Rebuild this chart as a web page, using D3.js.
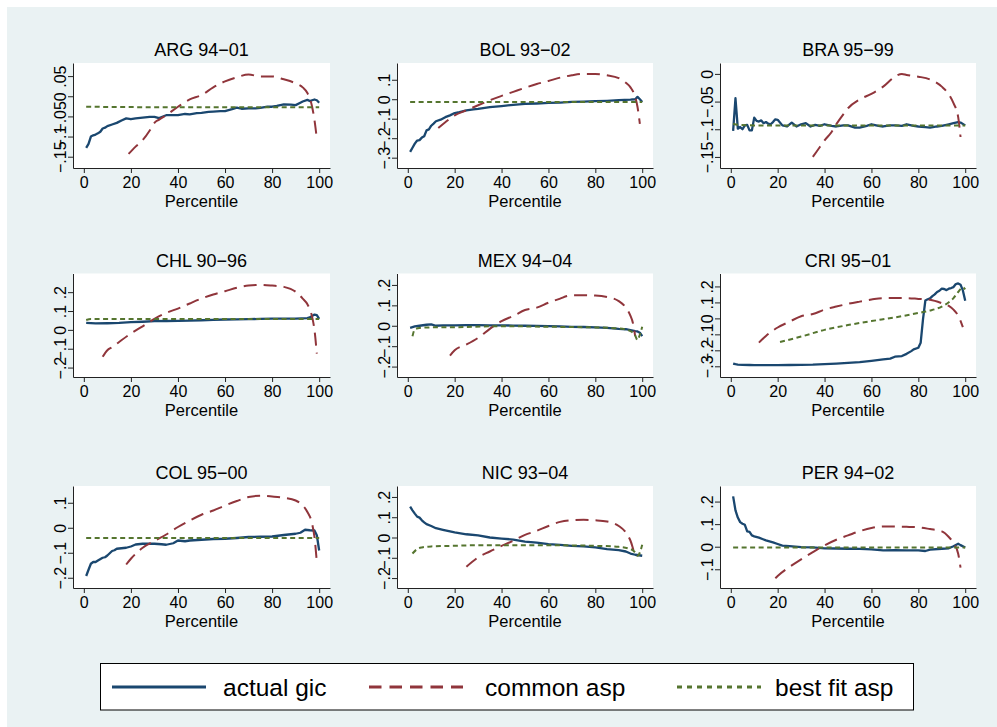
<!DOCTYPE html>
<html>
<head>
<meta charset="utf-8">
<script src="https://cdn.jsdelivr.net/npm/d3@7"></script>
<style>
  body { margin: 0; background: #fff; }
  svg { display: block; font-family: "Liberation Sans", Arial, Helvetica, sans-serif; }
</style>
</head>
<body>
<svg id="chart" width="997" height="727"></svg>
<script>
// panel titles, in reading order
const titles = ["ARG 94\u221201", "BOL 93\u221202", "BRA 95\u221299",
                "CHL 90\u221296", "MEX 94\u221204", "CRI 95\u221201",
                "COL 95\u221200", "NIC 93\u221204", "PER 94\u221202"];

// x axis ticks (percentile)
const xTicks = [0, 20, 40, 60, 80, 100];

// y axis ticks per panel
const yTicks = [
  [-.15, -.1, -.05, 0, .05],
  [-.3, -.2, -.1, 0, .1],
  [-.15, -.1, -.05, 0],
  [-.2, -.1, 0, .1, .2],
  [-.2, -.1, 0, .1, .2],
  [-.3, -.2, -.1, 0, .1, .2],
  [-.2, -.1, 0, .1],
  [-.2, -.1, 0, .1, .2],
  [-.1, 0, .1, .2]
];

// y range shown in each panel
const yRanges = [
  [-.178, .0825], [-.353, .186], [-.170, .0197],
  [-.250, .299], [-.251, .256], [-.367, .281],
  [-.241, .167], [-.249, .254], [-.183, .269]
];

// ---- series: [percentile, value] ----
const gicARG = [[1,-.128],[2,-.118],[3,-.100],[4,-.097],[5,-.095],[6,-.092],[7,-.088],[8,-.080],[9,-.078],[10,-.074],[12,-.070],[14,-.066],[16,-.060],[18,-.055],[20,-.057],[22,-.055],[25,-.053],[28,-.051],[30,-.051],[32,-.054],[35,-.047],[38,-.047],[40,-.047],[43,-.044],[45,-.045],[48,-.042],[50,-.041],[53,-.039],[55,-.038],[58,-.037],[60,-.037],[63,-.032],[65,-.028],[67,-.031],[70,-.030],[73,-.030],[75,-.029],[78,-.026],[80,-.026],[82,-.024],[85,-.020],[88,-.021],[90,-.022],[92,-.016],[93,-.013],[95,-.009],[96,-.012],[97,-.010],[98,-.008],[99,-.010],[100,-.016]];
const commonARG = [[19,-.143],[22,-.125],[25,-.109],[28,-.085],[30,-.066],[32,-.058],[35,-.047],[40,-.026],[45,-.008],[50,.003],[55,.022],[60,.037],[65,.047],[70,.054],[75,.049],[80,.049],[85,.042],[90,.032],[93,.022],[95,.008],[97,-.026],[98,-.059],[99,-.105]];
const bestARG = [[1,-.026],[25,-.027],[50,-.027],[75,-.027],[100,-.027]];

const gicBOL = [[1,-.270],[2,-.249],[3,-.228],[4,-.212],[5,-.210],[6,-.197],[7,-.190],[8,-.160],[9,-.155],[10,-.136],[11,-.125],[12,-.113],[14,-.105],[16,-.092],[18,-.083],[20,-.071],[22,-.066],[25,-.057],[28,-.052],[30,-.049],[35,-.040],[40,-.035],[45,-.029],[50,-.024],[55,-.022],[60,-.019],[65,-.017],[70,-.014],[75,-.012],[80,-.010],[85,-.008],[90,-.005],[95,-.002],[97,.000],[98,.012],[99,.000],[100,-.014]];
const commonBOL = [[13,-.148],[16,-.118],[20,-.083],[25,-.057],[30,-.031],[35,-.005],[40,.017],[45,.038],[50,.059],[55,.078],[60,.094],[65,.111],[70,.123],[75,.130],[80,.130],[85,.123],[90,.108],[93,.085],[95,.061],[97,.012],[98,-.040],[99,-.127]];
const bestBOL = [[1,-.014],[25,-.014],[50,-.014],[75,-.014],[100,-.014]];

const gicBRA = [[1,-.103],[2,-.044],[3,-.099],[4,-.096],[5,-.100],[6,-.093],[7,-.092],[8,-.102],[9,-.102],[10,-.079],[11,-.085],[12,-.086],[13,-.084],[14,-.089],[15,-.087],[16,-.090],[17,-.091],[18,-.087],[19,-.082],[20,-.083],[22,-.093],[24,-.095],[26,-.088],[28,-.095],[30,-.091],[32,-.089],[34,-.095],[36,-.092],[38,-.094],[40,-.091],[43,-.094],[45,-.095],[48,-.093],[50,-.093],[53,-.097],[55,-.097],[58,-.094],[60,-.091],[63,-.094],[65,-.095],[68,-.093],[70,-.093],[73,-.094],[75,-.091],[78,-.094],[80,-.095],[83,-.096],[85,-.097],[88,-.095],[90,-.094],[93,-.091],[95,-.089],[97,-.087],[98,-.088],[100,-.093]];
const commonBRA = [[35,-.150],[38,-.132],[40,-.120],[43,-.105],[45,-.091],[48,-.073],[50,-.062],[55,-.046],[60,-.036],[65,-.023],[70,-.005],[73,.000],[75,-.002],[80,-.005],[85,-.010],[90,-.023],[93,-.037],[95,-.053],[97,-.078],[98,-.114]];
const bestBRA = [[1,-.090],[3,-.092],[10,-.093],[50,-.093],[100,-.093]];

const gicCHL = [[1,.037],[5,.034],[10,.035],[15,.037],[20,.041],[25,.043],[30,.046],[35,.047],[40,.048],[45,.049],[50,.051],[55,.053],[60,.055],[65,.056],[70,.057],[75,.058],[80,.060],[85,.060],[90,.060],[95,.062],[96,.066],[97,.074],[98,.081],[99,.078],[100,.058]];
const commonCHL = [[8,-.143],[10,-.108],[12,-.092],[15,-.064],[20,-.019],[25,.019],[30,.058],[35,.090],[40,.113],[45,.140],[50,.166],[55,.188],[60,.205],[65,.223],[70,.235],[75,.239],[80,.235],[85,.228],[90,.202],[93,.166],[95,.136],[97,.069],[98,.000],[99,-.126]];
const bestCHL = [[1,.052],[3,.057],[50,.057],[100,.057]];

const gicMEX = [[1,-.010],[3,-.003],[5,.000],[8,.005],[10,.007],[12,.000],[15,.002],[20,.002],[25,.003],[30,.003],[35,.002],[40,.002],[45,.001],[50,.000],[55,-.001],[60,-.002],[65,-.003],[70,-.005],[75,-.006],[80,-.008],[85,-.010],[90,-.015],[93,-.017],[95,-.021],[97,-.026],[98,-.028],[99,-.034],[100,-.051]];
const commonMEX = [[18,-.146],[20,-.120],[25,-.092],[30,-.059],[35,-.015],[40,.023],[45,.048],[50,.077],[55,.089],[60,.113],[65,.133],[68,.146],[70,.149],[75,.149],[80,.148],[85,.141],[90,.121],[93,.089],[95,.048],[96,.015],[97,-.051]];
const bestMEX = [[2,-.051],[3,-.018],[5,-.011],[10,-.008],[20,-.007],[40,-.002],[60,-.005],[80,-.008],[90,-.013],[95,-.026],[97,-.048],[98,-.070],[99,-.043],[100,-.005]];

const gicCRI = [[1,-.283],[2,-.287],[3,-.289],[5,-.291],[8,-.292],[10,-.293],[15,-.293],[20,-.293],[25,-.292],[30,-.291],[35,-.290],[40,-.287],[45,-.283],[50,-.278],[55,-.274],[60,-.266],[65,-.257],[68,-.252],[70,-.240],[73,-.236],[75,-.222],[77,-.205],[78,-.194],[80,-.184],[81,-.152],[82,-.004],[83,.112],[84,.120],[85,.125],[86,.139],[87,.150],[88,.165],[89,.173],[90,.186],[91,.184],[92,.177],[93,.186],[94,.190],[95,.196],[96,.215],[97,.219],[98,.211],[99,.175],[100,.110]];
const commonCRI = [[12,-.152],[15,-.110],[20,-.057],[25,-.021],[30,.013],[35,.027],[40,.055],[45,.074],[50,.091],[55,.105],[60,.118],[65,.127],[70,.127],[75,.127],[80,.122],[85,.116],[90,.095],[93,.078],[95,.055],[97,.017],[99,-.055]];
const bestCRI = [[21,-.148],[30,-.114],[40,-.072],[50,-.042],[60,-.017],[70,.006],[80,.034],[85,.049],[90,.074],[93,.101],[95,.127],[97,.165],[99,.194],[100,.181]];

const gicCOL = [[1,-.193],[2,-.168],[3,-.144],[4,-.137],[5,-.137],[6,-.131],[8,-.120],[9,-.118],[10,-.111],[12,-.093],[13,-.090],[14,-.084],[16,-.082],[18,-.080],[20,-.075],[22,-.067],[25,-.064],[30,-.064],[33,-.066],[35,-.068],[38,-.062],[40,-.051],[43,-.054],[45,-.051],[50,-.048],[55,-.045],[60,-.044],[65,-.041],[70,-.037],[75,-.036],[80,-.035],[85,-.029],[90,-.024],[92,-.020],[94,-.008],[96,-.010],[98,-.011],[99,-.030],[100,-.091]];
const commonCOL = [[18,-.147],[20,-.124],[25,-.080],[30,-.053],[35,-.027],[40,.003],[45,.029],[50,.052],[55,.069],[60,.089],[65,.107],[70,.123],[75,.128],[80,.125],[85,.120],[90,.109],[93,.089],[95,.063],[97,.016],[98,-.037],[99,-.137]];
const bestCOL = [[1,-.041],[25,-.041],[50,-.041],[75,-.041],[100,-.041]];

const gicNIC = [[1,.152],[2,.134],[3,.118],[4,.103],[5,.098],[6,.085],[7,.075],[8,.066],[10,.057],[12,.046],[15,.038],[18,.030],[20,.025],[25,.016],[30,.010],[35,.000],[40,-.005],[45,-.010],[50,-.020],[55,-.025],[60,-.033],[65,-.036],[70,-.041],[75,-.044],[80,-.049],[85,-.057],[90,-.062],[93,-.069],[95,-.079],[97,-.085],[100,-.090]];
const commonNIC = [[25,-.144],[30,-.098],[35,-.069],[40,-.041],[45,-.016],[50,.013],[55,.033],[60,.057],[65,.077],[70,.085],[75,.087],[80,.085],[85,.079],[90,.057],[93,.025],[95,-.016],[97,-.082],[98,-.090]];
const bestNIC = [[2,-.079],[4,-.057],[6,-.049],[10,-.044],[20,-.041],[30,-.038],[50,-.038],[70,-.039],[80,-.041],[90,-.046],[95,-.057],[97,-.074],[98,-.090],[99,-.074],[100,-.036]];

const gicPER = [[1,.223],[2,.161],[3,.129],[4,.109],[5,.102],[6,.097],[7,.068],[8,.066],[9,.050],[10,.046],[12,.040],[15,.028],[18,.019],[20,.012],[22,.005],[25,.003],[30,-.002],[35,-.003],[40,-.007],[45,-.008],[50,-.009],[55,-.010],[60,-.012],[65,-.016],[70,-.015],[75,-.016],[80,-.016],[83,-.019],[85,-.013],[90,-.009],[93,-.007],[95,.002],[97,.013],[98,.007],[100,-.004]];
const commonPER = [[19,-.140],[20,-.130],[25,-.090],[30,-.056],[35,-.024],[40,.006],[45,.031],[50,.050],[55,.069],[60,.083],[65,.090],[70,.089],[75,.088],[80,.086],[85,.078],[90,.068],[93,.043],[95,.016],[97,-.031],[98,-.093]];
const bestPER = [[1,-.004],[25,-.004],[50,-.004],[75,-.004],[100,-.004]];

const gicSeries = [gicARG, gicBOL, gicBRA, gicCHL, gicMEX, gicCRI, gicCOL, gicNIC, gicPER];
const commonSeries = [commonARG, commonBOL, commonBRA, commonCHL, commonMEX, commonCRI, commonCOL, commonNIC, commonPER];
const bestSeries = [bestARG, bestBOL, bestBRA, bestCHL, bestMEX, bestCRI, bestCOL, bestNIC, bestPER];

const legendLabels = ["actual gic", "common asp", "best fit asp"];

// ---- drawing ----
const navy = "#1a476f", maroon = "#90353b", green = "#55752f";
const styles = [
  { color: navy, width: 2.3, dash: null },
  { color: maroon, width: 2, dash: "13,7" },
  { color: green, width: 2, dash: "5,3.5" }
];

const svg = d3.select("#chart");

// Stata-ish graph background
svg.append("rect")
  .attr("x", 7).attr("y", 7)
  .attr("width", 990).attr("height", 720)
  .attr("fill", "#eaf2f3");

const colLeft = [73, 397, 720], colWidth = [257, 256, 256];
const rowTop = [63, 273.5, 486], rowHeight = [105, 103.5, 102];
const xDomain = [-4.6, 104.6];

// Stata style tick labels: .05, -.1, 0
const fmt = v => {
  if (Math.abs(v) < 1e-9) return "0";
  return String(Math.round(v * 100) / 100).replace("0.", ".").replace("-", "\u2212");
};

titles.forEach((title, i) => {
  const c = i % 3, r = Math.floor(i / 3);
  const w = colWidth[c], h = rowHeight[r];

  const x = d3.scaleLinear().domain(xDomain).range([0, w]);
  const y = d3.scaleLinear().domain(yRanges[i]).range([h, 0]);

  const g = svg.append("g").attr("transform", `translate(${colLeft[c]},${rowTop[r]})`);

  g.append("rect").attr("width", w).attr("height", h).attr("fill", "#fff");

  // x axis
  const gx = g.append("g")
    .attr("transform", `translate(0,${h})`)
    .call(d3.axisBottom(x).tickValues(xTicks).tickSize(5).tickSizeOuter(0).tickPadding(4));
  gx.attr("font-family", null).attr("font-size", 16);

  // y axis with rotated labels
  const gy = g.append("g")
    .call(d3.axisLeft(y).tickValues(yTicks[i]).tickFormat(fmt).tickSize(5).tickSizeOuter(0));
  gy.attr("font-family", null).attr("font-size", 16);
  gy.selectAll(".tick text")
    .attr("x", 0).attr("y", -7).attr("dy", null)
    .attr("text-anchor", "middle")
    .attr("transform", "rotate(-90)");

  g.selectAll(".domain, .tick line").attr("stroke", "#222");
  g.selectAll(".tick text").attr("fill", "#000");

  g.append("text")
    .attr("x", w / 2).attr("y", h + 39)
    .attr("text-anchor", "middle")
    .attr("font-size", 16.5)
    .text("Percentile");

  g.append("text")
    .attr("x", w / 2).attr("y", -7)
    .attr("text-anchor", "middle")
    .attr("font-size", 18)
    .text(title);

  const line = d3.line().x(d => x(d[0])).y(d => y(d[1]));
  const smooth = d3.line().x(d => x(d[0])).y(d => y(d[1])).curve(d3.curveMonotoneX);

  [gicSeries[i], commonSeries[i], bestSeries[i]].forEach((data, k) => {
    const s = styles[k];
    g.append("path")
      .datum(data)
      .attr("fill", "none")
      .attr("stroke", s.color)
      .attr("stroke-width", s.width)
      .attr("stroke-dasharray", s.dash)
      .attr("stroke-linejoin", "round")
      .attr("d", k === 0 ? line : smooth);
  });
});

// legend
const legend = svg.append("g");
legend.append("rect")
  .attr("x", 100.5).attr("y", 663.5)
  .attr("width", 813).attr("height", 46.5)
  .attr("fill", "#fff").attr("stroke", "#000");

const keyX = [112, 369, 677], keyLen = [94, 94, 84], labelX = [223, 485, 775];
const legendDash = [null, "12.5,8", "5,5"];

legendLabels.forEach((label, k) => {
  legend.append("line")
    .attr("x1", keyX[k]).attr("x2", keyX[k] + keyLen[k])
    .attr("y1", 687).attr("y2", 687)
    .attr("stroke", styles[k].color)
    .attr("stroke-width", 2.8)
    .attr("stroke-dasharray", legendDash[k]);
  legend.append("text")
    .attr("x", labelX[k]).attr("y", 696)
    .attr("font-size", 24.5)
    .text(label);
});
</script>
</body>
</html>
